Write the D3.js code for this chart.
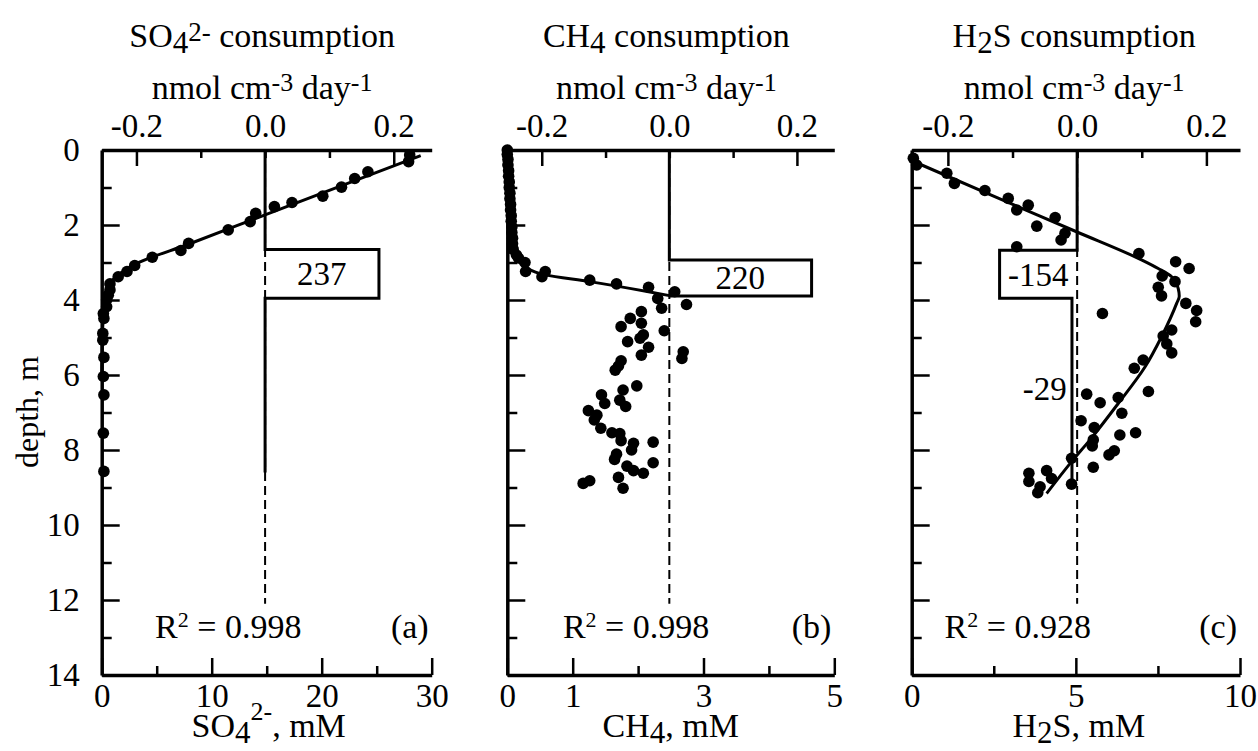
<!DOCTYPE html>
<html>
<head>
<meta charset="utf-8">
<script src="https://cdn.jsdelivr.net/npm/d3@7"></script>
<style>
  body { margin: 0; background: #fff; }
  text { font-family: "Liberation Serif", "Times New Roman", serif; fill: #000; }
</style>
</head>
<body>
<div id="chart"></div>
<script>
var width = 1258, height = 751
var plotTop = 150, plotBottom = 675
var serif = '"Liberation Serif", "Times New Roman", serif'

// shared axes
var depthTicks = d3.range(0, 15)
var rateTicks = [-0.2, -0.1, 0, 0.1, 0.2]
var rateLabels = [-0.2, 0, 0.2]

// (a) sulfate
var so4Depth = [0.13, 0.31, 0.58, 0.76, 0.99, 1.23, 1.40, 1.51, 1.69, 1.91, 2.13, 2.49, 2.68, 2.86, 3.08, 3.24, 3.38, 3.57, 3.73, 3.87, 4.00, 4.18, 4.36, 4.49, 4.89, 5.07, 5.53, 6.04, 6.53, 7.55, 8.57]
var so4Conc = [28.0, 27.9, 24.2, 23.0, 21.8, 20.1, 17.3, 15.7, 14.0, 13.5, 11.5, 7.9, 7.2, 4.6, 3.0, 2.3, 1.5, 0.75, 0.75, 0.6, 0.45, 0.45, 0.15, 0.2, 0.1, 0.1, 0.2, 0.15, 0.2, 0.15, 0.2]
var so4FitDepth = [0.15, 0.93, 1.73, 2.5, 3.05, 3.33, 3.56, 3.93, 4.36, 5.0, 6.0]
var so4FitConc = [29.0, 22.0, 14.85, 8.0, 3.0, 1.5, 0.75, 0.45, 0.2, 0.05, 0]
var so4RateDepth = [0, 2.65, 3.95, 8.6]
var so4Rate = [0, 0.177, 0]

// (b) methane
var ch4Depth = [0.0, 0.12, 0.25, 0.4, 0.55, 0.7, 0.85, 1.0, 1.15, 1.3, 1.45, 1.6, 1.75, 1.9, 2.05, 2.2, 2.35, 2.5, 2.65,
  2.8, 2.88, 3.0, 3.24, 3.38, 3.24, 3.47, 3.57, 3.66,
  4.31, 4.49, 4.71, 4.62, 4.22, 3.96, 3.78, 4.12, 4.82, 5.11, 5.02, 4.93, 5.26, 5.47, 5.38, 5.56, 5.62, 5.76, 5.87, 6.29,
  6.40, 6.67, 6.53, 6.76, 6.84, 6.95, 7.07, 7.2, 7.42, 7.54, 7.56, 7.75, 7.82, 8.0, 7.79, 8.11, 8.25, 8.34, 8.43, 8.55,
  8.62, 8.73, 9.02, 8.89, 8.82]
var ch4Conc = [0.0, 0.0, 0.01, 0.01, 0.02, 0.02, 0.03, 0.03, 0.04, 0.04, 0.05, 0.05, 0.06, 0.06, 0.07, 0.07, 0.08, 0.08, 0.09,
  0.14, 0.17, 0.27, 0.28, 0.53, 0.58, 1.26, 1.67, 2.16,
  2.05, 1.88, 1.74, 2.05, 2.36, 2.30, 2.56, 2.74, 2.40, 1.84, 2.03, 2.08, 2.16, 2.05, 2.69, 2.67, 1.74, 1.70, 1.65, 1.98,
  1.77, 1.72, 1.44, 1.49, 1.81, 1.24, 1.37, 1.33, 1.43, 1.60, 1.72, 1.74, 1.93, 1.90, 2.23, 1.67, 1.64, 2.23, 1.83, 1.93,
  2.08, 1.70, 1.77, 1.16, 1.26]
var ch4FitDepth = [0, 1.0, 2.0, 2.5, 2.84, 3.11, 3.33, 3.51, 3.78, 3.89]
var ch4FitConc = [0.02, 0.04, 0.06, 0.09, 0.13, 0.27, 0.58, 1.26, 2.16, 2.5]
var ch4RateDepth = [0, 2.93, 3.89, 3.89]
var ch4Rate = [0, 0.223, 0]

// (c) sulfide
var h2sDepth = [0.22, 0.4, 0.62, 0.89, 1.08, 1.29, 1.6, 1.47, 2.03, 1.80, 2.22, 2.4, 2.58, 2.76, 2.98, 3.16, 3.36, 3.51, 3.66, 3.89,
  4.09, 4.28, 4.58, 4.36, 4.8, 4.96, 5.17, 5.41, 5.6, 5.82, 6.44, 6.51, 6.74, 6.6, 7.02, 7.22, 7.4, 7.6, 7.54, 7.73,
  7.89, 8.02, 8.13, 8.22, 8.46, 8.55, 8.62, 8.76, 8.84, 8.98, 9.14, 8.91]
var h2sConc = [0.05, 0.15, 1.07, 1.30, 2.23, 2.94, 3.20, 3.55, 3.81, 4.37, 4.67, 4.55, 3.20, 6.92, 8.04, 8.45, 7.63, 8.02, 7.51, 7.61,
  8.35, 8.68, 8.65, 5.81, 7.92, 7.66, 7.77, 7.92, 7.05, 6.78, 7.21, 5.33, 5.74, 6.29, 6.40, 5.16, 5.56, 6.34, 6.82, 5.53,
  5.50, 6.17, 6.01, 4.87, 5.53, 4.11, 3.57, 4.26, 3.57, 3.91, 3.84, 4.87]
var h2sFitDepth = [0.36, 1.27, 2.18, 2.93, 3.16, 3.38, 3.7, 3.9, 4.09, 4.98, 5.78, 6.76, 7.73, 8.31, 9.16]
var h2sFitConc = [0.2, 2.6, 5.02, 7.0, 7.51, 7.92, 8.12, 8.15, 8.07, 7.61, 7.11, 6.29, 5.43, 4.87, 4.11]
var h2sRateDepth = [0, 2.67, 3.95, 8.87]
var h2sRate = [0, -0.12, -0.008]

var svg = d3.select("#chart").append("svg")
  .attr("width", width)
  .attr("height", height)

var y = d3.scaleLinear().domain([0, 14]).range([plotTop, plotBottom])

// [text, font size, baseline offset]
function richText(sel, parts) {
  var cur = 0
  parts.forEach(function (p) {
    sel.append("tspan")
      .attr("font-size", p[1])
      .attr("dy", p[2] - cur)
      .text(p[0])
    cur = p[2]
  })
  return sel
}

var panels = [
  {
    left: 101.7, right: 431.7, concMax: 30, rateDomain: [-0.254, 0.259],
    depth: so4Depth, conc: so4Conc, fitDepth: so4FitDepth, fitConc: so4FitConc,
    rateDepth: so4RateDepth, rate: so4Rate,
    concTicks: [0, 5, 10, 15, 20, 25, 30], concMinor: [5, 15, 25], concLabels: [0, 10, 20, 30],
    depthLabels: true,
    title: [["SO", 34, 0], ["4", 31, 6], ["2-", 27, -6], [" consumption", 34, 0]],
    xTitle: [["SO", 34, 0], ["4", 31, 6], ["2-", 26, -17], [", mM", 34, 0]], xTitleShift: 2,
    flux: [{ text: "237", rate: 0.088, depth: 3.3, anchor: "middle" }],
    r2: "0.998", r2Conc: 4.85, letter: "(a)"
  },
  {
    left: 507.3, right: 834.3, concMax: 5, rateDomain: [-0.254, 0.2586],
    depth: ch4Depth, conc: ch4Conc, fitDepth: ch4FitDepth, fitConc: ch4FitConc,
    rateDepth: ch4RateDepth, rate: ch4Rate,
    concTicks: [0, 1, 2, 3, 4, 5], concMinor: [2, 4], concLabels: [0, 1, 3, 5],
    depthLabels: false,
    title: [["CH", 34, 0], ["4", 31, 6], [" consumption", 34, 0]],
    xTitle: [["CH", 34, 0], ["4", 31, 6], [", mM", 34, 0]], xTitleShift: 0,
    flux: [{ text: "220", rate: 0.111, depth: 3.41, anchor: "middle" }],
    r2: "0.998", r2Conc: 0.85, letter: "(b)"
  },
  {
    left: 911.7, right: 1240, concMax: 10, rateDomain: [-0.256, 0.252],
    depth: h2sDepth, conc: h2sConc, fitDepth: h2sFitDepth, fitConc: h2sFitConc,
    rateDepth: h2sRateDepth, rate: h2sRate,
    concTicks: [0, 2.5, 5, 7.5, 10], concMinor: [2.5, 7.5], concLabels: [0, 5, 10],
    depthLabels: false,
    title: [["H", 34, 0], ["2", 31, 6], ["S consumption", 34, 0]],
    xTitle: [["H", 34, 0], ["2", 31, 6], ["S, mM", 34, 0]], xTitleShift: 3,
    flux: [{ text: "-154", rate: -0.06, depth: 3.31, anchor: "middle" },
           { text: "-29", rate: -0.016, depth: 6.35, anchor: "end" }],
    r2: "0.928", r2Conc: 1.0, letter: "(c)"
  }
]

function styleAxis(g) {
  g.attr("font-family", serif).attr("font-size", 33)
  g.select(".domain").attr("stroke-width", 3.5)
  g.selectAll(".tick line").attr("stroke-width", 2.5)
}

panels.forEach(function (p) {
  var g = svg.append("g")
  var x = d3.scaleLinear().domain([0, p.concMax]).range([p.left, p.right])
  var xr = d3.scaleLinear().domain(p.rateDomain).range([p.left, p.right])

  // dashed reference at zero rate
  g.append("line")
    .attr("x1", xr(0)).attr("x2", xr(0))
    .attr("y1", y(0)).attr("y2", y(12.1))
    .attr("stroke", "#000")
    .attr("stroke-width", 2)
    .attr("stroke-dasharray", "9,5")

  // step rate profile
  var steps = []
  p.rate.forEach(function (r, i) {
    steps.push([r, p.rateDepth[i]], [r, p.rateDepth[i + 1]])
  })
  g.append("path")
    .datum(steps)
    .attr("d", d3.line().x(d => xr(d[0])).y(d => y(d[1])))
    .attr("fill", "none")
    .attr("stroke", "#000")
    .attr("stroke-width", 3)

  // flux labels
  p.flux.forEach(function (f) {
    g.append("text")
      .attr("x", xr(f.rate))
      .attr("y", y(f.depth))
      .attr("dy", "0.35em")
      .attr("text-anchor", f.anchor)
      .attr("font-size", 33)
      .text(f.text)
  })

  // fitted curve
  var fit = p.fitDepth.map((d, i) => [p.fitConc[i], d])
  g.append("path")
    .datum(fit)
    .attr("d", d3.line().curve(d3.curveMonotoneY).x(d => x(d[0])).y(d => y(d[1])))
    .attr("fill", "none")
    .attr("stroke", "#000")
    .attr("stroke-width", 3)

  // measured points
  g.selectAll("circle.pt")
    .data(p.depth.map((d, i) => [p.conc[i], d]))
    .enter()
    .append("circle")
      .attr("class", "pt")
      .attr("cx", d => x(d[0]))
      .attr("cy", d => y(d[1]))
      .attr("r", 5.8)
      .attr("fill", "#000")

  // depth axis, ticks inward
  var yAxis = g.append("g")
    .attr("transform", `translate(${p.left},0)`)
    .call(d3.axisLeft(y)
      .tickValues(depthTicks)
      .tickSizeInner(-18)
      .tickSizeOuter(0)
      .tickPadding(22)
      .tickFormat(d => (p.depthLabels && d % 2 == 0) ? d : ""))
  styleAxis(yAxis)
  yAxis.selectAll(".tick line").attr("x2", d => d % 2 ? 10 : 18)

  // concentration axis
  var xAxis = g.append("g")
    .attr("transform", `translate(0,${plotBottom})`)
    .call(d3.axisBottom(x)
      .tickValues(p.concTicks)
      .tickSizeInner(-17)
      .tickSizeOuter(0)
      .tickPadding(9)
      .tickFormat(d => p.concLabels.indexOf(d) >= 0 ? d : ""))
  styleAxis(xAxis)
  xAxis.selectAll(".tick line").attr("y2", d => p.concMinor.indexOf(d) >= 0 ? -9 : -17)

  // rate axis on top
  var rAxis = g.append("g")
    .attr("transform", `translate(0,${plotTop})`)
    .call(d3.axisTop(xr)
      .tickValues(rateTicks)
      .tickSizeInner(-16)
      .tickSizeOuter(0)
      .tickPadding(13)
      .tickFormat(d => rateLabels.indexOf(d) >= 0 ? d.toFixed(1) : ""))
  styleAxis(rAxis)
  rAxis.selectAll(".tick line").attr("y2", d => Math.abs(d) < 0.15 ? 8 : 16)

  // titles
  var cx = xr(0) - 3
  richText(g.append("text").attr("x", cx).attr("y", 47).attr("text-anchor", "middle"), p.title)
  richText(g.append("text").attr("x", cx).attr("y", 99).attr("text-anchor", "middle"),
    [["nmol cm", 34, 0], ["-3", 26, -8], [" day", 34, 0], ["-1", 26, -8]])
  richText(g.append("text").attr("x", x(p.concMax / 2) + p.xTitleShift).attr("y", 737).attr("text-anchor", "middle"), p.xTitle)

  richText(g.append("text").attr("x", x(p.r2Conc)).attr("y", 638),
    [["R", 34, 0], ["2", 22, -11], [" = " + p.r2, 34, 0]])
  g.append("text")
    .attr("x", p.right - 3)
    .attr("y", 638)
    .attr("text-anchor", "end")
    .attr("font-size", 34)
    .text(p.letter)
})

svg.append("text")
  .attr("transform", "translate(38,412) rotate(-90)")
  .attr("text-anchor", "middle")
  .attr("font-size", 32)
  .text("depth, m")
</script>
</body>
</html>
